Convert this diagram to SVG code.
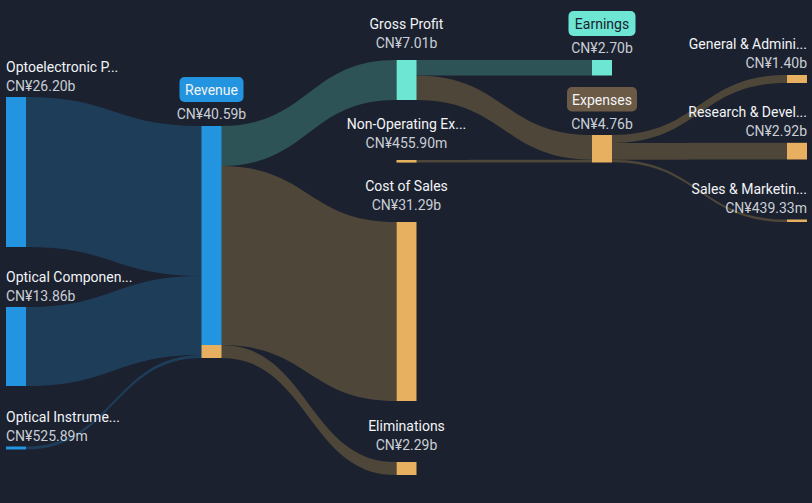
<svg xmlns="http://www.w3.org/2000/svg" width="812" height="503" viewBox="0 0 812 503">
<style>
text{font-family:Roboto,"Liberation Sans",sans-serif;font-size:14px}
.n{fill:#f2f4f7}
.v{fill:#c9ced6}
.m{text-anchor:middle}
.e{text-anchor:end}
.lb{fill:#1e3d59}
.lt{fill:#2e5357}
.lo{fill:#4d4639}
.b{fill:#2394e0}
.t{fill:#6ee6d4}
.o{fill:#e6b060}
</style>
<rect width="812" height="503" fill="#1b212e"/>
<g id="links">
<path class="lb" d="M26,97 C114,97 114,126 202,126 L202,276 C114,276 114,247 26,247 Z"/>
<path class="lb" d="M26,307 C114,307 114,276 202,276 L202,355 C114,355 114,386 26,386 Z"/>
<path class="lb" d="M26,446.5 C114,446.5 114,355 202,355 L202,358 C114,358 114,449.5 26,449.5 Z"/>
<path class="lt" d="M221,126 C308.5,126 308.5,60 396,60 L396,100 C308.5,100 308.5,166 221,166 Z"/>
<path class="lo" d="M221,166 C308.5,166 308.5,222 396,222 L396,401 C308.5,401 308.5,345 221,345 Z"/>
<path class="lo" d="M221,345 C308.5,345 308.5,462 396,462 L396,475 C308.5,475 308.5,358 221,358 Z"/>
<path class="lt" d="M416,60 L592,60 L592,75.5 L416,75.5 Z"/>
<path class="lo" d="M416,75.5 C504,75.5 504,135 592,135 L592,159.7 C504,159.7 504,100 416,100 Z"/>
<path class="lo" d="M416,160 C504,160 504,159.7 592,159.7 L592,162.5 C504,162.5 504,162.6 416,162.6 Z"/>
<path class="lo" d="M612,135 C699.5,135 699.5,75 787,75 L787,83 C699.5,83 699.5,143 612,143 Z"/>
<path class="lo" d="M612,143 C699.5,143 699.5,142.8 787,142.8 L787,159.5 C699.5,159.5 699.5,159.7 612,159.7 Z"/>
<path class="lo" d="M612,159.7 C699.5,159.7 699.5,219.5 787,219.5 L787,222 C699.5,222 699.5,162.3 612,162.3 Z"/>
</g>
<g id="opto">
<rect class="b" x="6" y="97" width="20" height="150"/>
<text class="n" x="6" y="72">Optoelectronic P...</text>
<text class="v" x="6" y="91">CN¥26.20b</text>
</g>
<g id="optical-components">
<rect class="b" x="6" y="307" width="20" height="79"/>
<text class="n" x="6" y="282">Optical Componen...</text>
<text class="v" x="6" y="301">CN¥13.86b</text>
</g>
<g id="optical-instruments">
<rect class="b" x="6" y="446.5" width="20" height="3"/>
<text class="n" x="6" y="422">Optical Instrume...</text>
<text class="v" x="6" y="441">CN¥525.89m</text>
</g>
<g id="revenue">
<rect class="b" x="201.5" y="126" width="20" height="219"/>
<rect class="o" x="201.5" y="345" width="20" height="13"/>
<rect x="179.5" y="77" width="64" height="25" rx="5" fill="#2394e0"/>
<text class="n m" x="211.5" y="95">Revenue</text>
<text class="v m" x="211.5" y="119">CN¥40.59b</text>
</g>
<g id="gross-profit">
<rect class="t" x="396.5" y="60" width="20" height="40"/>
<text class="n m" x="406.5" y="29">Gross Profit</text>
<text class="v m" x="406.5" y="48">CN¥7.01b</text>
</g>
<g id="non-operating">
<rect class="o" x="396.5" y="160" width="20" height="2.6"/>
<text class="n m" x="406.5" y="129">Non-Operating Ex...</text>
<text class="v m" x="406.5" y="148">CN¥455.90m</text>
</g>
<g id="cost-of-sales">
<rect class="o" x="396.5" y="222" width="20" height="179"/>
<text class="n m" x="406.5" y="191">Cost of Sales</text>
<text class="v m" x="406.5" y="210">CN¥31.29b</text>
</g>
<g id="eliminations">
<rect class="o" x="396.5" y="462" width="20" height="13"/>
<text class="n m" x="406.5" y="431">Eliminations</text>
<text class="v m" x="406.5" y="450">CN¥2.29b</text>
</g>
<g id="earnings">
<rect class="t" x="592" y="60" width="20" height="15.5"/>
<rect x="568.5" y="11" width="67" height="25" rx="5" fill="#6ee6d4"/>
<text class="m" x="602" y="29" fill="#1b212e">Earnings</text>
<text class="v m" x="602" y="53">CN¥2.70b</text>
</g>
<g id="expenses">
<rect class="o" x="592" y="135" width="20" height="27.5"/>
<rect x="567" y="87" width="70" height="24.5" rx="5" fill="#6b5a45"/>
<text class="n m" x="602" y="104.5">Expenses</text>
<text class="v m" x="602" y="129">CN¥4.76b</text>
</g>
<g id="general-admin">
<rect class="o" x="787" y="75" width="20" height="8"/>
<text class="n e" x="807" y="49">General &amp; Admini...</text>
<text class="v e" x="807" y="68">CN¥1.40b</text>
</g>
<g id="research">
<rect class="o" x="787" y="142.8" width="20" height="16.7"/>
<text class="n e" x="807" y="117">Research &amp; Devel...</text>
<text class="v e" x="807" y="136">CN¥2.92b</text>
</g>
<g id="sales-marketing">
<rect class="o" x="787" y="219.5" width="20" height="2.5"/>
<text class="n e" x="807" y="194">Sales &amp; Marketin...</text>
<text class="v e" x="807" y="213">CN¥439.33m</text>
</g>
</svg>
